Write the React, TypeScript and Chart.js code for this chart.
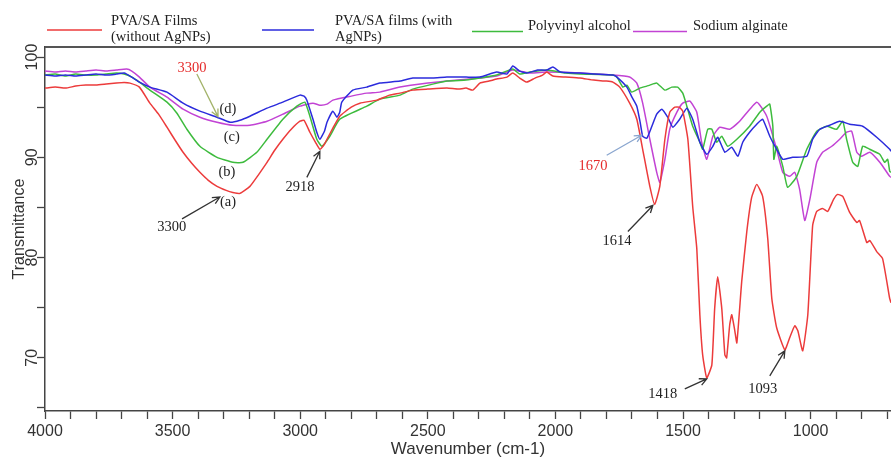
import React, { useEffect, useRef } from "react";
import { Chart, registerables } from "chart.js";
Chart.register(...registerables);

// ---------- DATA ----------
const seriesNames: string[][] = [
  ["PVA/SA Films", "(without AgNPs)"],
  ["PVA/SA films (with", "AgNPs)"],
  ["Polyvinyl alcohol"],
  ["Sodium alginate"],
];

// [wavenumber (cm-1), transmittance]
const filmWithoutAg: [number, number][] = [
  [4000, 96.9], [3960, 97.0], [3920, 96.9], [3880, 97.1], [3840, 97.2], [3800, 97.2], [3760, 97.3], [3720, 97.4],
  [3690, 97.45], [3667, 97.4], [3630, 97.0], [3589, 95.4], [3555, 94.3], [3522, 93.0], [3490, 91.7], [3459, 90.5],
  [3425, 89.4], [3393, 88.5], [3360, 87.7], [3326, 87.1], [3290, 86.7], [3264, 86.5], [3236, 86.4], [3197, 87.1],
  [3165, 88.2], [3130, 89.5], [3100, 90.7], [3068, 91.8], [3035, 92.8], [3001, 93.6], [2985, 93.7], [2962, 92.5],
  [2940, 91.5], [2923, 90.8], [2905, 91.3], [2895, 91.8], [2870, 93.0], [2845, 94.1], [2800, 95.0], [2766, 95.4],
  [2700, 95.7], [2650, 96.2], [2609, 96.4], [2559, 96.7], [2500, 96.8], [2425, 96.9], [2380, 96.8], [2350, 96.9],
  [2324, 96.7], [2296, 97.4], [2260, 97.6], [2230, 97.8], [2190, 98.0], [2167, 98.4], [2140, 97.9], [2112, 97.5],
  [2080, 97.9], [2050, 98.2], [2034, 98.5], [2010, 98.1], [1960, 98.0], [1904, 97.9], [1850, 97.7], [1800, 97.6],
  [1775, 97.5], [1748, 97.0], [1709, 95.4], [1681, 93.8], [1658, 90.8], [1630, 87.1], [1611, 85.3], [1591, 87.1],
  [1571, 91.8], [1552, 94.5], [1532, 95.0], [1515, 95.0], [1501, 94.6], [1481, 91.8], [1462, 85.1], [1446, 80.9],
  [1434, 74.3], [1423, 70.3], [1407, 68.0], [1387, 69.3], [1376, 74.9], [1364, 78.1], [1348, 74.9], [1336, 70.3],
  [1329, 70.0], [1317, 73.3], [1309, 74.3], [1297, 72.7], [1289, 71.5], [1270, 77.6], [1250, 82.6], [1231, 86.0],
  [1211, 87.3], [1188, 86.1], [1168, 81.9], [1152, 75.9], [1133, 73.0], [1101, 70.8], [1082, 72.0], [1062, 73.2],
  [1050, 72.7], [1031, 70.7], [1011, 74.3], [992, 83.2], [976, 84.6], [953, 84.9], [933, 84.6], [910, 85.8],
  [894, 86.3], [874, 86.1], [847, 84.5], [819, 83.5], [808, 83.7], [780, 81.5], [768, 81.7], [741, 80.6],
  [718, 79.9], [690, 75.9], [685, 75.5],
];

const filmWithAg: [number, number][] = [
  [4000, 98.2], [3960, 98.1], [3920, 98.2], [3880, 98.1], [3840, 98.2], [3800, 98.3], [3760, 98.2], [3720, 98.3],
  [3690, 98.4], [3660, 98.0], [3630, 97.5], [3589, 97.0], [3522, 96.5], [3459, 95.4], [3393, 94.6], [3326, 94.0],
  [3275, 93.5], [3236, 93.7], [3197, 94.1], [3130, 94.9], [3068, 95.5], [3001, 96.2], [2985, 96.1], [2974, 95.7],
  [2950, 93.8], [2935, 92.5], [2923, 91.8], [2905, 92.6], [2895, 93.5], [2872, 94.6], [2856, 94.0], [2845, 94.5],
  [2837, 95.5], [2794, 96.7], [2739, 97.0], [2688, 97.4], [2609, 97.6], [2559, 97.9], [2480, 97.9], [2425, 98.0],
  [2350, 98.0], [2296, 98.0], [2230, 98.5], [2190, 98.3], [2167, 99.1], [2140, 98.6], [2112, 98.4], [2070, 98.7],
  [2034, 98.7], [2010, 99.0], [1980, 98.5], [1904, 98.4], [1850, 98.3], [1775, 98.2], [1759, 98.0], [1720, 97.0],
  [1700, 96.0], [1681, 95.1], [1668, 93.5], [1658, 92.1], [1642, 91.9], [1622, 93.1], [1603, 94.3], [1583, 94.8],
  [1560, 94.0], [1540, 93.0], [1513, 93.8], [1485, 94.9], [1462, 93.8], [1434, 91.5], [1407, 90.3], [1383, 91.1],
  [1364, 92.0], [1336, 90.5], [1309, 91.0], [1285, 90.1], [1266, 91.5], [1239, 92.5], [1211, 93.3], [1188, 93.8],
  [1160, 92.1], [1133, 90.8], [1109, 89.8], [1070, 90.0], [1015, 90.1], [992, 91.8], [964, 92.8], [925, 93.2],
  [886, 93.6], [847, 93.3], [796, 93.1], [741, 92.0], [690, 90.8], [685, 90.6],
];

const polyvinylAlcohol: [number, number][] = [
  [4000, 98.2], [3960, 98.3], [3920, 98.1], [3880, 98.3], [3840, 98.2], [3800, 98.2], [3760, 98.3], [3720, 98.4],
  [3690, 98.3], [3660, 98.0], [3630, 97.5], [3589, 96.7], [3522, 95.5], [3483, 94.4], [3444, 92.8], [3393, 91.1],
  [3326, 90.0], [3264, 89.5], [3224, 89.5], [3170, 90.5], [3130, 91.8], [3068, 93.8], [3013, 95.1], [2982, 95.5],
  [2962, 94.1], [2935, 91.8], [2915, 91.1], [2884, 92.1], [2845, 93.8], [2739, 95.1], [2688, 95.8], [2609, 96.2],
  [2559, 96.8], [2425, 97.6], [2350, 97.7], [2296, 97.9], [2230, 98.2], [2167, 98.8], [2140, 98.3], [2100, 98.5],
  [2034, 98.7], [1960, 98.4], [1904, 98.3], [1775, 98.2], [1759, 98.0], [1736, 97.0], [1720, 97.2], [1701, 96.5],
  [1669, 96.9], [1642, 97.1], [1630, 97.2], [1603, 97.4], [1571, 96.7], [1544, 97.0], [1521, 97.0], [1501, 96.4],
  [1485, 95.1], [1462, 93.1], [1434, 91.5], [1423, 90.8], [1403, 92.8], [1387, 92.8], [1368, 91.5], [1348, 92.1],
  [1325, 91.1], [1289, 91.8], [1239, 93.1], [1199, 94.5], [1172, 95.1], [1160, 95.3], [1148, 93.1], [1144, 89.8],
  [1133, 91.1], [1109, 89.1], [1090, 87.0], [1054, 88.1], [1015, 90.8], [976, 92.6], [937, 93.1], [898, 92.8],
  [874, 93.6], [859, 91.8], [835, 89.5], [815, 89.1], [796, 91.1], [768, 90.8], [729, 90.3], [710, 89.5],
  [698, 89.8], [690, 88.6], [685, 88.5],
];

const sodiumAlginate: [number, number][] = [
  [4000, 98.6], [3960, 98.5], [3920, 98.6], [3880, 98.5], [3840, 98.6], [3800, 98.7], [3760, 98.6], [3720, 98.7],
  [3680, 98.8], [3660, 98.6], [3630, 98.0], [3589, 97.0], [3522, 96.0], [3459, 94.8], [3393, 94.0], [3326, 93.5],
  [3264, 93.2], [3197, 93.2], [3130, 93.6], [3068, 94.3], [3001, 95.1], [2950, 95.4], [2923, 95.2], [2895, 95.3],
  [2872, 95.7], [2800, 96.1], [2739, 96.4], [2688, 96.5], [2609, 97.0], [2500, 97.4], [2425, 97.6], [2296, 97.9],
  [2230, 98.1], [2167, 98.7], [2100, 98.4], [2034, 98.5], [1904, 98.4], [1775, 98.2], [1709, 98.0], [1681, 97.4],
  [1658, 95.4], [1630, 91.8], [1603, 88.5], [1591, 87.5], [1571, 89.8], [1552, 92.8], [1524, 94.5], [1501, 95.4],
  [1473, 95.6], [1446, 94.5], [1427, 91.5], [1407, 89.8], [1383, 92.1], [1356, 93.0], [1317, 92.8], [1278, 93.6],
  [1211, 95.5], [1172, 94.1], [1133, 90.8], [1109, 88.5], [1082, 88.1], [1062, 88.5], [1043, 86.8], [1023, 83.7],
  [1003, 85.8], [976, 89.5], [953, 90.5], [917, 91.1], [886, 91.8], [859, 92.5], [839, 92.6], [819, 90.5],
  [800, 90.1], [768, 90.5], [729, 89.5], [690, 88.1], [685, 88.0],
];

const xTicks = [4000, 3900, 3800, 3700, 3600, 3500, 3400, 3300, 3200, 3100, 3000, 2900, 2800, 2700, 2600, 2500,
  2400, 2300, 2200, 2100, 2000, 1900, 1800, 1700, 1600, 1500, 1400, 1300, 1200, 1100, 1000, 900, 800, 700];
const xTickLabels = [4000, 3500, 3000, 2500, 2000, 1500, 1000];
const yTicks = [65, 70, 75, 80, 85, 90, 95, 100];
const yTickLabels = [70, 80, 90, 100];

// annotation labels: text, wavenumber, transmittance
const noteTexts = ["3300", "(d)", "(c)", "(b)", "(a)", "3300", "2918", "1670", "1614", "1418", "1093"];
const noteWave = [3424, 3283, 3268, 3287, 3283, 3503, 3001, 1853, 1759, 1579, 1188];
const noteValue = [98.9, 94.75, 91.98, 88.5, 85.5, 83.07, 87.03, 89.1, 81.6, 66.4, 66.9];
// arrows: from (wave, value) to (wave, value)
const arrowFromWave = [3405, 3463, 2974, 1799, 1716, 1493, 1160];
const arrowFromValue = [98.3, 83.86, 88.0, 90.2, 82.6, 66.9, 68.2];
const arrowToWave = [3322, 3315, 2923, 1662, 1618, 1407, 1101];
const arrowToValue = [94.06, 86.04, 90.6, 92.2, 85.2, 67.9, 70.7];

// ---------- STYLE ----------
const seriesColors = ["#ec3b3b", "#2b2bdc", "#3dbb3d", "#c243d4"];
const noteColors = ["#e52b2b", "#222", "#222", "#222", "#222", "#222", "#222", "#e52b2b", "#222", "#222", "#222"];
const arrowColors = ["#a3b36a", "#333", "#333", "#8aa6cf", "#333", "#333", "#333"];
const serif = '"Liberation Serif", "Times New Roman", serif';
const sans = '"Liberation Sans", Arial, sans-serif';

const decorPlugin = {
  id: "decor",
  afterDraw(chart: any) {
    const ctx = chart.ctx as CanvasRenderingContext2D;
    const { left, right, top } = chart.chartArea;
    const xs = chart.scales.x;
    const ys = chart.scales.y;
    ctx.save();
    // top frame line
    ctx.strokeStyle = "#555";
    ctx.lineWidth = 2;
    ctx.beginPath();
    ctx.moveTo(left, top);
    ctx.lineTo(right, top);
    ctx.stroke();

    // rotated y tick labels
    ctx.fillStyle = "#333";
    ctx.font = "16px " + sans;
    ctx.textAlign = "center";
    ctx.textBaseline = "middle";
    for (const v of yTickLabels) {
      const py = ys.getPixelForValue(v);
      ctx.save();
      ctx.translate(left - 12, py);
      ctx.rotate(-Math.PI / 2);
      ctx.fillText(String(v), 0, 0);
      ctx.restore();
    }

    // legend
    const legendLayout = [
      { x1: 47, x2: 102, tx: 111, ly: 30, base: [24.5, 41] },
      { x1: 262, x2: 314, tx: 335, ly: 30, base: [24.5, 41] },
      { x1: 472, x2: 523, tx: 528, ly: 31.5, base: [30] },
      { x1: 633, x2: 687, tx: 693, ly: 31.5, base: [30] },
    ];
    ctx.font = "14.5px " + serif;
    ctx.textAlign = "left";
    ctx.textBaseline = "alphabetic";
    legendLayout.forEach((l, i) => {
      ctx.strokeStyle = seriesColors[i];
      ctx.lineWidth = 1.5;
      ctx.beginPath();
      ctx.moveTo(l.x1, l.ly);
      ctx.lineTo(l.x2, l.ly);
      ctx.stroke();
      ctx.fillStyle = "#222";
      seriesNames[i].forEach((line, j) => ctx.fillText(line, l.tx, l.base[j]));
    });

    // arrows
    arrowFromWave.forEach((_, i) => {
      const x1 = xs.getPixelForValue(arrowFromWave[i]);
      const y1 = ys.getPixelForValue(arrowFromValue[i]);
      const x2 = xs.getPixelForValue(arrowToWave[i]);
      const y2 = ys.getPixelForValue(arrowToValue[i]);
      ctx.strokeStyle = arrowColors[i];
      ctx.lineWidth = 1.3;
      ctx.beginPath();
      ctx.moveTo(x1, y1);
      ctx.lineTo(x2, y2);
      const ang = Math.atan2(y2 - y1, x2 - x1);
      const hl = 8;
      ctx.moveTo(x2 - hl * Math.cos(ang - 0.45), y2 - hl * Math.sin(ang - 0.45));
      ctx.lineTo(x2, y2);
      ctx.lineTo(x2 - hl * Math.cos(ang + 0.45), y2 - hl * Math.sin(ang + 0.45));
      ctx.stroke();
    });

    // annotation texts
    ctx.font = "14.5px " + serif;
    ctx.textAlign = "center";
    ctx.textBaseline = "middle";
    noteTexts.forEach((t, i) => {
      ctx.fillStyle = noteColors[i];
      ctx.fillText(t, xs.getPixelForValue(noteWave[i]), ys.getPixelForValue(noteValue[i]));
    });
    ctx.restore();
  },
};

export default function App() {
  const ref = useRef<HTMLCanvasElement | null>(null);
  useEffect(() => {
    if (!ref.current) return;
    const all = [filmWithoutAg, filmWithAg, polyvinylAlcohol, sodiumAlginate];
    const chart = new Chart(ref.current, {
      type: "line",
      data: {
        datasets: all.map((d, i) => ({
          label: seriesNames[i].join(" "),
          data: d.map(([x, y]) => ({ x, y })),
          borderColor: seriesColors[i],
          backgroundColor: seriesColors[i],
          borderWidth: 1.5,
          pointRadius: 0,
          tension: 0.15,
          fill: false,
        })),
      },
      options: {
        animation: false,
        responsive: false,
        devicePixelRatio: 1,
        layout: { padding: { top: 47, left: 0, right: 0, bottom: 0 } },
        plugins: { legend: { display: false }, tooltip: { enabled: false } },
        scales: {
          x: {
            type: "linear",
            reverse: true,
            min: 685,
            max: 4000,
            afterBuildTicks: (s: any) => { s.ticks = xTicks.map((v) => ({ value: v })); },
            afterFit: (s: any) => { s.height = 49; },
            ticks: {
              autoSkip: false,
              maxRotation: 0,
              minRotation: 0,
              padding: 3,
              color: "#333",
              font: { family: sans, size: 16 },
              callback: (v: any) => (xTickLabels.includes(Number(v)) ? String(v) : ""),
            },
            grid: { drawOnChartArea: false, drawTicks: true, tickLength: 8, color: "#444", tickWidth: 1.3 },
            border: { color: "#444", width: 1.5 },
            title: {
              display: true,
              text: "Wavenumber (cm-1)",
              color: "#333",
              font: { family: sans, size: 17 },
              padding: { top: 0, bottom: 0 },
            },
          },
          y: {
            type: "linear",
            min: 64.7,
            max: 101,
            afterBuildTicks: (s: any) => { s.ticks = yTicks.map((v) => ({ value: v })); },
            afterFit: (s: any) => { s.width = 45; },
            ticks: { display: false },
            grid: { drawOnChartArea: false, drawTicks: true, tickLength: 8, color: "#444", tickWidth: 1.3 },
            border: { color: "#444", width: 1.5 },
            title: {
              display: true,
              text: "Transmittance",
              color: "#333",
              font: { family: sans, size: 16 },
              padding: { top: 10, bottom: 0 },
            },
          },
        },
      },
      plugins: [decorPlugin],
    } as any);
    return () => chart.destroy();
  }, []);
  return (
    <div style={{ position: "fixed", left: 0, top: 0, width: 891, height: 460, background: "#fff" }}>
      <canvas ref={ref} width={891} height={460} style={{ width: 891, height: 460, display: "block" }} />
    </div>
  );
}
